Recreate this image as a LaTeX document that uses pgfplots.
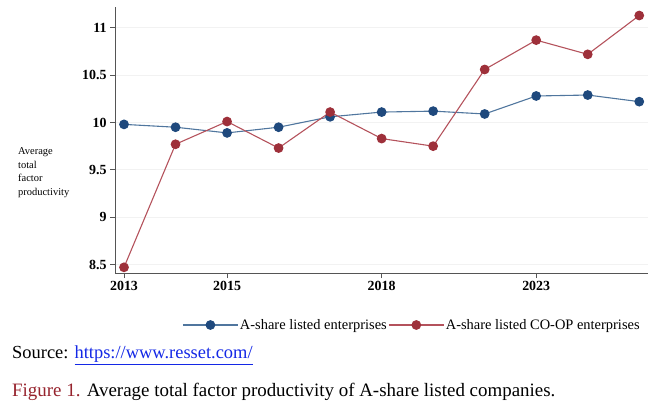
\documentclass[border=0pt]{standalone}
\usepackage{pgfplots}
\pgfplotsset{compat=1.18}
\usepackage{fontspec}
\setmainfont{Liberation Serif}
\definecolor{bluemark}{RGB}{31,73,125}
\definecolor{blueline}{RGB}{80,118,158}
\definecolor{redmark}{RGB}{158,48,58}
\definecolor{redline}{RGB}{180,82,92}
\definecolor{axisgray}{RGB}{85,85,85}
\definecolor{linkblue}{RGB}{20,40,230}
\definecolor{figred}{RGB}{150,35,45}
\begin{document}
\begin{tikzpicture}[x=1bp,y=1bp]
\path[use as bounding box] (0,0) rectangle (655,409);
\begin{axis}[
  at={(115bp,136bp)}, anchor=south west,
  scale only axis, width=533bp, height=266bp,
  xmin=-0.175, xmax=10.17, ymin=8.41, ymax=11.22,
  axis x line*=bottom, axis y line*=left,
  axis line style={-, draw=axisgray, line width=0.9pt},
  xtick={0,2,5,8}, xticklabels={2013,2015,2018,2023},
  ytick={8.5,9,9.5,10,10.5,11},
  tick align=outside, major tick length=5bp,
  tick style={draw=axisgray, line width=0.9pt},
  /pgf/number format/assume math mode=true,
  tick label style={font=\fontsize{14}{14}\selectfont\bfseries},
  ymajorgrids, grid style={draw=gray!10, line width=0.8pt},
  legend columns=2,
  legend style={at={(0.126,-0.1955)}, anchor=west, draw=none, fill=none, inner sep=0pt,
    font=\fontsize{14.5}{16}\selectfont, /tikz/every even column/.append style={column sep=0bp},
    nodes={inner sep=1.5bp}},
  legend image code/.code={\draw[mark repeat=2,mark phase=2,#1] plot coordinates {(0bp,0bp)(27.5bp,0bp)(55bp,0bp)};},
]
\addplot[blueline, line width=1.1pt, mark=*, mark size=4.3bp, mark options={draw=bluemark, fill=bluemark}]
  coordinates {(0,9.98)(1,9.95)(2,9.89)(3,9.95)(4,10.06)(5,10.11)(6,10.12)(7,10.09)(8,10.28)(9,10.29)(10,10.22)};
\addlegendentry{A-share listed enterprises}
\addplot[redline, line width=1.1pt, mark=*, mark size=4.3bp, mark options={draw=redmark, fill=redmark}]
  coordinates {(0,8.47)(1,9.77)(2,10.01)(3,9.73)(4,10.11)(5,9.83)(6,9.75)(7,10.56)(8,10.87)(9,10.72)(10,11.13)};
\addlegendentry{A-share listed CO-OP enterprises}
\end{axis}
\node[anchor=west, align=left, inner sep=0pt, font=\fontsize{10.5}{13.7}\selectfont] at (18,236.5) {Average\\total\\factor\\productivity};
\node[anchor=west, inner sep=0pt, font=\fontsize{18.5}{20}\selectfont] at (12,54) {Source: \textcolor{linkblue}{\underline{https://www.resset.com/}}};
\node[anchor=west, inner sep=0pt, font=\fontsize{19}{21}\selectfont] at (12,17) {\textcolor{figred}{Figure 1.} Average total factor productivity of A-share listed companies.};
\end{tikzpicture}
\end{document}
